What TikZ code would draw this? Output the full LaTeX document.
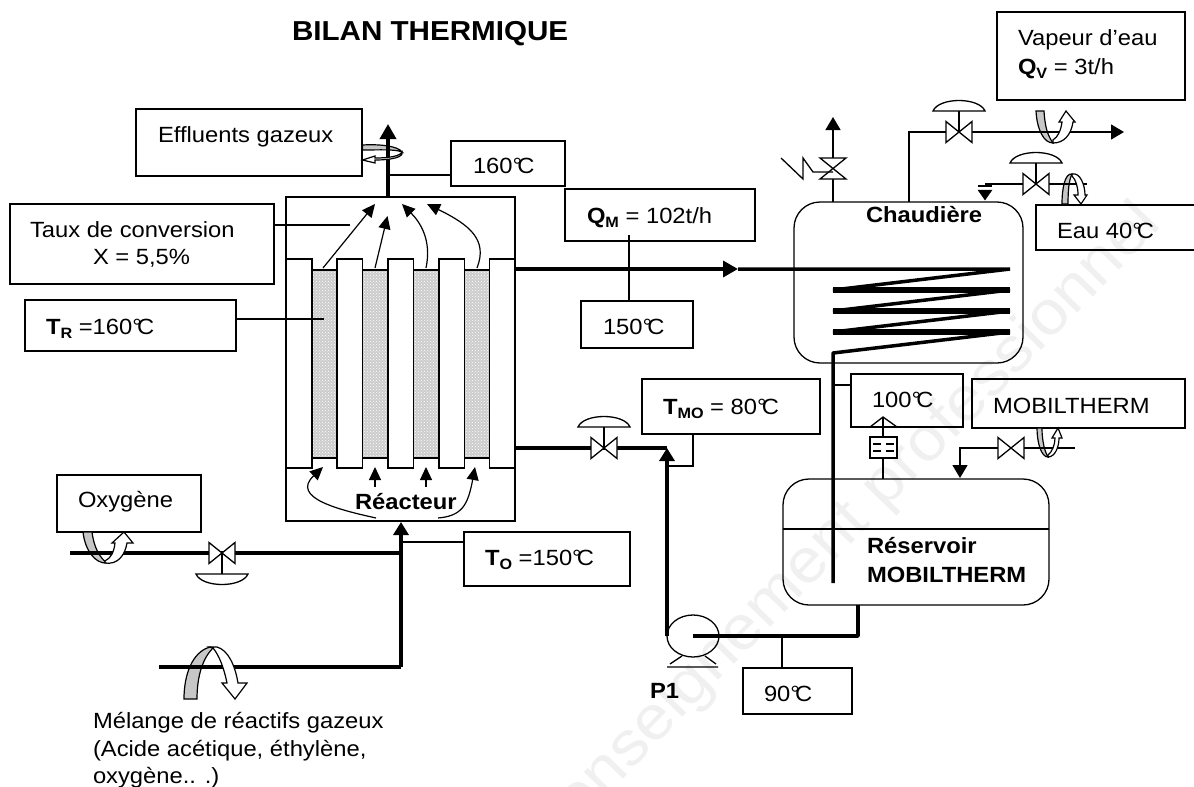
\documentclass[tikz,border=0pt]{standalone}
\usepackage{fontspec}
\setmainfont[FakeStretch=1.08]{Liberation Sans}
\usetikzlibrary{arrows.meta,patterns,shapes.geometric}
\definecolor{bedgray}{gray}{0.8}
\definecolor{bandgray}{gray}{0.78}
\definecolor{markgray}{gray}{0.94}
\newcommand{\degC}{°\kern-.22em C}
\newcommand{\subbold}[2]{\textbf{#1\raisebox{-.2em}{\fontsize{15}{15}\selectfont #2}}}
\tikzset{
  tagbox/.style={draw,line width=1.4,inner sep=0,outer sep=0,anchor=north west},
  tagtext/.style={inner sep=0,outer sep=0,anchor=base west,font=\fontsize{22}{26}\selectfont},
  tagbold/.style={tagtext,font=\fontsize{22}{26}\selectfont\bfseries},
  tagline/.style={line width=1.3},
  pipe/.style={line width=3.5,line join=bevel},
  pipethin/.style={line width=1.4},
  headbig/.style={-{Triangle[length=15,width=16]}},
  headsmall/.style={-{Triangle[length=13,width=15]}},
  flowarrow/.style={line width=1.2,-{Triangle[length=13,width=12]}},
  bandgrey/.style={draw,line width=1.2,fill=bandgray},
  bandwhite/.style={draw,line width=1.2,fill=white},
  vessel/.style={draw,line width=1.3,rounded corners=26,inner sep=0,outer sep=0,anchor=north west,minimum width=0},
  pics/valve/.style={code={
    \draw[line width=1.3,fill=white] (-13,-10.5) -- (13,10.5) -- (13,-10.5) -- (-13,10.5) -- cycle;}},
  pics/ctrlvalve/.style={code={
    \draw[line width=1.3,fill=white] (-13,-10.5) -- (13,10.5) -- (13,-10.5) -- (-13,10.5) -- cycle;
    \draw[line width=1.3] (0,0) -- (0,-21);
    \draw[line width=1.3] (-26,-21) .. controls (-20,-35) and (20,-35) .. (26,-21) -- cycle;}}
}
\begin{document}
\begin{tikzpicture}[x=1pt,y=-1pt]
  \useasboundingbox (0,0) rectangle (1194,787);
  \node[inner sep=0,rotate=45.7,anchor=base west,text=markgray,font=\fontsize{62}{66}\selectfont] (mark) at (578,825) {enseignement professionnel};

  \node[tagbold,font=\fontsize{27.4}{30}\selectfont\bfseries] (title) at (292,40) {BILAN THERMIQUE};

  % reacteur
  \begin{scope}
    \foreach \xa/\xb in {312/337,362.5/388,413.5/439,464.5/489.5}
      \draw[line width=1.3,preaction={fill=bedgray},pattern=crosshatch dots,pattern color=white]
        (\xa,270) rectangle (\xb,458);
    \foreach \xa/\xb in {286/312,337/362.5,388/413.5,439/464.5,489.5/515}
      \draw[line width=1.3,fill=white] (\xa,259) rectangle (\xb,468);
    \node[draw,line width=1.3,inner sep=0,outer sep=0,anchor=north west,minimum width=229,minimum height=324] (reacteur) at (286,197) {};
    \node[tagbold] (reacteurtxt) at (355,509) {Réacteur};
  \end{scope}

  \draw[flowarrow] (323,268) -- (375,204);
  \draw[flowarrow] (375,268) -- (387.5,216);
  \draw[flowarrow] (426,268) .. controls (432,240) and (420,222) .. (402,204);
  \draw[flowarrow] (477,268) .. controls (488,240) and (470,225) .. (427,204);
  \draw[flowarrow] (376,518) .. controls (340,510) and (290,498) .. (323,467);
  \draw[flowarrow] (375,487) -- (375,467);
  \draw[flowarrow] (426,487) -- (426,467);
  \draw[flowarrow] (438,518) .. controls (462,516) and (468,505) .. (475,467);

  % etiquettes
  \node[tagbox,minimum width=226,minimum height=67] (effluents) at (136,109) {};
  \node[tagtext] (effluentstxt) at (158,142) {Effluents gazeux};
  \node[tagbox,minimum width=114,minimum height=45] (tsortie) at (451,141) {};
  \node[tagtext] (tsortietxt) at (473,173) {160\degC};
  \node[tagbox,minimum width=264,minimum height=80] (taux) at (10,204) {};
  \node[tagtext] (tauxtxt) at (30,237) {Taux de conversion};
  \node[tagtext] (tauxval) at (93,264) {X = 5,5\%};
  \node[tagbox,minimum width=211,minimum height=51] (treact) at (25,300) {};
  \node[tagtext] (treacttxt) at (46,334) {\subbold{T}{R} =160\degC};
  \node[tagbox,minimum width=190,minimum height=52] (qm) at (565,189) {};
  \node[tagtext] (qmtxt) at (587,223) {\subbold{Q}{M} = 102t/h};
  \node[tagbox,minimum width=112,minimum height=47] (tqm) at (581,301) {};
  \node[tagtext] (tqmtxt) at (603,334) {150\degC};
  \node[tagbox,minimum width=178,minimum height=55] (tmo) at (642,379) {};
  \node[tagtext] (tmotxt) at (663,414) {\subbold{T}{MO} = 80\degC};
  \node[tagbox,minimum width=112,minimum height=53] (tchaud) at (851,374) {};
  \node[tagtext] (tchaudtxt) at (872,407) {100\degC};
  \node[tagbox,minimum width=213,minimum height=49] (mobil) at (972,379) {};
  \node[tagtext] (mobiltxt) at (993,413) {MOBILTHERM};
  \node[tagbox,minimum width=188,minimum height=88] (vapeur) at (997,12) {};
  \node[tagtext] (vapeurtxt) at (1018,45) {Vapeur d’eau};
  \node[tagtext] (qvtxt) at (1018,74) {\subbold{Q}{V} = 3t/h};
  \node[tagbox,minimum width=170,minimum height=45] (eau) at (1036,205) {};
  \node[tagtext] (eautxt) at (1057,238) {Eau 40\degC};
  \node[tagbox,minimum width=144,minimum height=57] (oxygene) at (57,475) {};
  \node[tagtext] (oxygenetxt) at (78,507) {Oxygène};
  \node[tagbox,minimum width=166,minimum height=54] (to) at (464,532) {};
  \node[tagtext] (totxt) at (485,565) {\subbold{T}{O} =150\degC};
  \node[tagbox,minimum width=109,minimum height=46] (tpompe) at (743,668) {};
  \node[tagtext] (tpompetxt) at (764,701) {90\degC};
  \node[tagtext] (melange) at (93,728) {Mélange de réactifs gazeux};
  \node[tagtext] (melangeb) at (93,756) {(Acide acétique, éthylène,};
  \node[tagtext] (melangec) at (93,783) {oxygène.. .)};

  % cuves
  \node[vessel,minimum width=229,minimum height=161] (chaudiere) at (794,202) {};
  \node[tagbold] (chaudieretxt) at (866,222) {Chaudière};
  \node[vessel,minimum width=266,minimum height=126] (reservoir) at (783,479) {};
  \coordinate (niveaua) at (783,529);
  \coordinate (niveaub) at (1049,529);
  \draw[line width=1.3] (niveaua) -- (niveaub);
  \node[tagbold] (reservoirtxt) at (867,553) {Réservoir};
  \node[tagbold] (reservoirtxtb) at (867,582) {MOBILTHERM};

  % pompe
  \node[draw,line width=1.3,ellipse,minimum width=52,minimum height=42,inner sep=0,outer sep=0] (pompe) at (693,636) {};
  \coordinate (pompec) at (693,636);
  \draw[line width=1.3] (667,667) -- (718,667) (670,664) -- (682,656) (716,664) -- (705,656);
  \node[tagbold] (pompetxt) at (650,698) {P1};

  % bandes grises, sous les tuyaux
  \draw[bandgrey] (184,699) -- (197,699) .. controls (197,680) and (201,660) .. (213,648) -- (210,647) .. controls (192,652) and (184,675) .. (184,699) -- cycle;
  \draw[bandgrey] (83,532) -- (92,532) .. controls (94,548) and (100,558) .. (107,563) .. controls (95,564) and (85,550) .. (83,532) -- cycle;
  \draw[bandgrey] (1036,111) -- (1044,111) .. controls (1045,128) and (1048,136) .. (1053,143) .. controls (1044,143) and (1037,130) .. (1036,111) -- cycle;
  \draw[bandgrey] (1037,428) -- (1042,428) .. controls (1042,442) and (1045,452) .. (1048,457) .. controls (1041,457) and (1037,442) .. (1037,428) -- cycle;
  \draw[bandgrey] (1062,204) -- (1068,204) .. controls (1068,190) and (1069,180) .. (1072,174) .. controls (1065,173) and (1062,188) .. (1062,204) -- cycle;
  \draw[bandgrey] (362.5,145) .. controls (380,144) and (398,146) .. (402,152) .. controls (395,149) and (380,150) .. (362.5,150) -- cycle;

  % tuyaux
  \coordinate (sortie) at (388,124);
  \coordinate (sortiebas) at (388,197);
  \coordinate (sortiepiq) at (388,175);
  \draw[pipe,headbig] (sortiebas) -- (sortie);
  \draw[tagline] (sortiepiq) -- (tsortie.west |- sortiepiq);
  \coordinate (tauxend) at (350,225);
  \draw[tagline] (taux.east |- tauxend) -- (tauxend);
  \coordinate (treactend) at (324,319);
  \draw[tagline] (treact.east |- treactend) -- (treactend);

  \coordinate (chaudin) at (515,269);
  \coordinate (chaudfleche) at (738,269);
  \draw[pipe,headbig] (chaudin) -- (chaudfleche);
  \draw[pipe] (chaudfleche) -- (1010,269) -- (833,290) -- (1010,290) -- (833,311) -- (1010,311) -- (833,332) -- (1010,332) -- (833,353) -- (833,583);
  \foreach \yy in {290,311,332}
    \draw[line width=5.5] (833,\yy) -- (1010,\yy);
  \coordinate (qmpiq) at (629,235);
  \draw[tagline] (qmpiq) -- (tqm.north -| qmpiq);
  \coordinate (tchaudpiq) at (832,385);
  \draw[tagline] (tchaudpiq) -- (tchaud.west |- tchaudpiq);

  \coordinate (react2) at (515,448);
  \coordinate (coude) at (667,448);
  \draw[pipe] (react2) -- (coude);
  \draw[pipe,headsmall] (pompe.west) -- (coude);
  \draw[tagline] (693,434) -- (693,466) -- (667,466);
  \draw[pipe] (pompec) -- (858,636) -- (858,605);
  \coordinate (tpompepiq) at (782,636);
  \draw[tagline] (tpompepiq) -- (tpompe.north -| tpompepiq);

  \coordinate (melangein) at (159,667);
  \coordinate (oxyin) at (70,553);
  \coordinate (noeud) at (401,667);
  \coordinate (entree) at (401,522);
  \draw[pipe] (melangein) -- (noeud);
  \draw[pipe] (oxyin) -- (401,553);
  \draw[pipe,headsmall] (noeud) -- (entree);
  \coordinate (topiq) at (401,542);
  \draw[tagline] (topiq) -- (to.west |- topiq);

  % vapeur et eau
  \coordinate (vapa) at (909,202);
  \coordinate (vapb) at (909,132);
  \coordinate (vapc) at (1124,132);
  \draw[pipethin,headsmall] (vapa) -- (vapb) -- (vapc);
  \coordinate (souptop) at (833,117);
  \draw[pipethin,headsmall] (833,202) -- (souptop);
  \draw[line width=1.3,fill=white] (820,158) -- (846,179) -- (820,179) -- (846,158) -- cycle;
  \draw[line width=1.3] (781,158) -- (803,179) -- (803,158) -- (813,172) -- (833,172);
  \coordinate (eaua) at (985,184);
  \coordinate (eaub) at (1087,184);
  \draw[pipethin] (eaua) -- (eaub);
  \draw[line width=1.3] (978,186) -- (992,186);
  \draw[fill=black] (978,190) -- (992,190) -- (985,200) -- cycle;
  \coordinate (moba) at (1075,448);
  \coordinate (mobb) at (960,448);
  \coordinate (mobc) at (960,478);
  \draw[pipethin,headsmall] (moba) -- (mobb) -- (mobc);
  \draw[tagline] (883,479) -- (883,417);
  \draw[line width=1.3,fill=white] (870,437) rectangle (897,458);
  \draw[line width=1.1] (873,444) -- (881,444) (886,444) -- (894,444) (873,451) -- (881,451) (886,451) -- (894,451);
  \draw[line width=1.3] (870,427) -- (883,417) -- (897,427);

  % vannes
  \pic at (959,132) {ctrlvalve};
  \pic at (1036,184) {ctrlvalve};
  \pic at (604,448) {ctrlvalve};
  \pic[yscale=-1] at (222,553) {ctrlvalve};
  \pic at (1011,448) {valve};

  % fleches blanches
  \draw[bandwhite] (210,647) -- (217,647) .. controls (228,650) and (235,665) .. (238,683) -- (247,683) -- (235,699) -- (222,683) -- (227,683) .. controls (224,668) and (219,655) .. (213,648) -- cycle;
  \draw[bandwhite] (105,563) .. controls (118,565) and (125,555) .. (127,543) -- (133,543) -- (124,532) -- (112,543) -- (115,543) .. controls (114,552) and (111,558) .. (105,561) -- cycle;
  \draw[bandwhite] (1053,143) .. controls (1064,143) and (1071,135) .. (1073,122) -- (1075,122) -- (1066,111) -- (1059,122) -- (1062,122) .. controls (1061,130) and (1058,137) .. (1053,140) -- cycle;
  \draw[bandwhite] (1048,457) .. controls (1055,457) and (1059,447) .. (1059,438) -- (1062,438) -- (1058,428) -- (1052,438) -- (1055,438) .. controls (1055,445) and (1052,452) .. (1048,455) -- cycle;
  \draw[bandwhite] (1072,174) .. controls (1080,172) and (1085,185) .. (1085,195) -- (1087,195) -- (1081,204) -- (1074,195) -- (1078,195) .. controls (1078,187) and (1076,180) .. (1072,176) -- cycle;
  \draw[bandwhite] (402,152) .. controls (404,157) and (392,160) .. (375,160) -- (375,163) -- (362.5,160) -- (375,156) -- (375,158) .. controls (390,158) and (400,156) .. (402,152) -- cycle;
\end{tikzpicture}
\end{document}
